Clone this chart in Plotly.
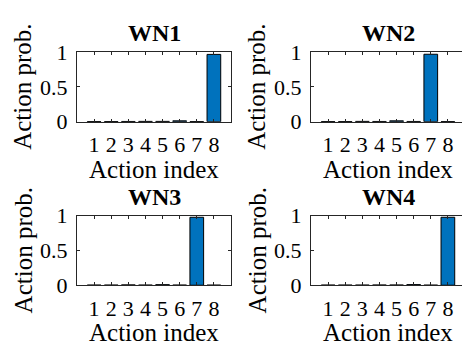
import plotly.graph_objects as go

# Action-probability distributions for the four wireless nodes
actions = [1, 2, 3, 4, 5, 6, 7, 8]
wn1_prob = [0.002, 0.002, 0.003, 0.004, 0.004, 0.012, 0.002, 0.965]
wn2_prob = [0.002, 0.002, 0.004, 0.003, 0.012, 0.003, 0.967, 0.002]
wn3_prob = [0.002, 0.002, 0.005, 0.002, 0.008, 0.002, 0.975, 0.001]
wn4_prob = [0.002, 0.002, 0.002, 0.003, 0.003, 0.009, 0.001, 0.975]
panel_titles = ["WN1", "WN2", "WN3", "WN4"]
y_ticks = [0, 0.5, 1]
y_tick_text = ["0", "0.5", "1"]

W, H = 462, 354
FONT = "'Times New Roman', 'Liberation Serif', Times, serif"
AXIS_COLOR = "#262626"
BAR_COLOR = "#0072BD"

# pixel boxes of each axes: (left, right, top, bottom); right column runs past the page edge
boxes = [
    (77, 231, 43, 118),
    (311, 465, 43, 118),
    (77, 231, 219, 294),
    (311, 465, 219, 294),
]
series = [wn1_prob, wn2_prob, wn3_prob, wn4_prob]

fig = go.Figure()
for i, (vals, (l, r, t, b)) in enumerate(zip(series, boxes)):
    n = i + 1
    xa = "x" if n == 1 else f"x{n}"
    ya = "y" if n == 1 else f"y{n}"
    fig.add_trace(go.Bar(
        x=actions, y=vals, xaxis=xa, yaxis=ya, width=0.8,
        marker=dict(color=BAR_COLOR, line=dict(color="black", width=1)),
        showlegend=False,
    ))
    # clip the axes at the page edge while keeping the data scale
    right_px = min(r, W)
    x_hi = 9 * (right_px - l) / (r - l)
    dom_x = [l / W, right_px / W]
    dom_y = [1 - b / H, 1 - t / H]
    fig.layout[("xaxis" if n == 1 else f"xaxis{n}")] = dict(
        domain=dom_x, range=[0, x_hi], anchor=ya,
        tickmode="array", tickvals=actions, ticktext=[str(a) for a in actions],
        ticks="inside", ticklen=3, tickcolor=AXIS_COLOR, tickwidth=1,
        showline=True, linecolor=AXIS_COLOR, linewidth=1, mirror="ticks",
        showgrid=False, zeroline=False, ticklabelstandoff=3,
        tickfont=dict(family=FONT, size=22, color="black"),
        fixedrange=True,
    )
    fig.layout[("yaxis" if n == 1 else f"yaxis{n}")] = dict(
        domain=dom_y, range=[0, 1], anchor=xa,
        tickmode="array", tickvals=y_ticks, ticktext=y_tick_text,
        ticks="inside", ticklen=3, tickcolor=AXIS_COLOR, tickwidth=1,
        showline=True, linecolor=AXIS_COLOR, linewidth=1,
        mirror=("ticks" if r <= W else False),
        showgrid=False, zeroline=False, ticklabelstandoff=4,
        tickfont=dict(family=FONT, size=22, color="black"),
        fixedrange=True,
    )
    cx = (l + r) / 2 / W
    # panel title
    fig.add_annotation(text=f"<b>{panel_titles[i]}</b>", xref="paper", yref="paper",
                       x=cx, y=1 - (t - 20) / H, xanchor="center", yanchor="middle",
                       showarrow=False, font=dict(family=FONT, size=24, color="black"))
    # x-axis title
    fig.add_annotation(text="Action index", xref="paper", yref="paper",
                       x=cx, y=1 - (b + 51) / H, xanchor="center", yanchor="middle",
                       showarrow=False, font=dict(family=FONT, size=25, color="black"))
    # y-axis title
    fig.add_annotation(text="Action prob.", xref="paper", yref="paper",
                       x=(l - 54) / W, y=1 - (t + b) / 2 / H, xanchor="center", yanchor="middle",
                       textangle=-90, showarrow=False,
                       font=dict(family=FONT, size=25, color="black"))

fig.update_layout(
    width=W, height=H,
    margin=dict(l=0, r=0, t=0, b=0),
    paper_bgcolor="white", plot_bgcolor="white",
    bargap=0.2,
)
fig.write_html("out.html")
